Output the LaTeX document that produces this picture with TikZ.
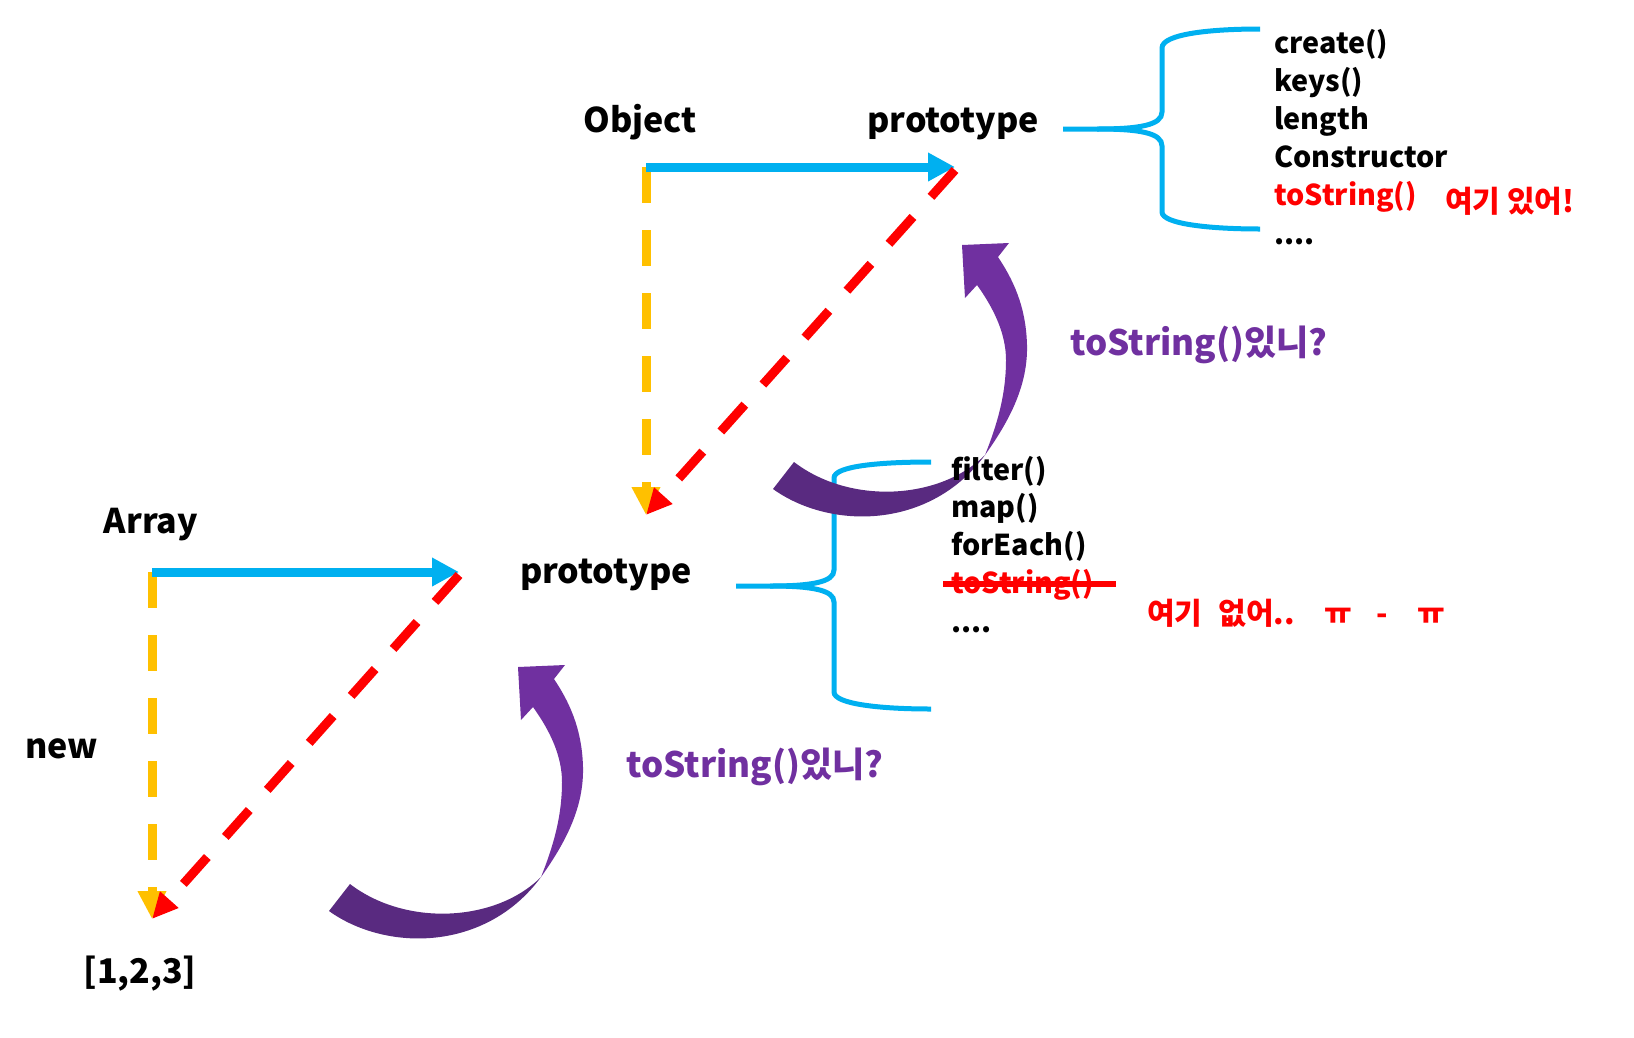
\documentclass[tikz,border=0pt]{standalone}
\usepackage{fontspec}
\setmainfont{Noto Sans CJK KR}
\newfontfamily\cjk{Noto Sans CJK KR}
\usetikzlibrary{arrows.meta}
\definecolor{sky}{HTML}{00B0F0}
\definecolor{amber}{HTML}{FFC000}
\definecolor{plum}{HTML}{7030A0}
\definecolor{darkplum}{HTML}{592A80}

\begin{document}
\begin{tikzpicture}[x=1pt,y=-1pt,line cap=butt]
    \tikzstyle{heading}=[inner sep=0pt,anchor=base,font=\cjk\fontsize{34}{42}\selectfont\bfseries]
    \tikzstyle{member}=[inner sep=0pt,anchor=base west,font=\cjk\fontsize{28.7}{36}\selectfont\bfseries]
    \tikzstyle{memo}=[inner sep=0pt,anchor=base west,text=red,font=\cjk\fontsize{30}{36}\selectfont\bfseries]
    \tikzstyle{query}=[inner sep=0pt,anchor=base west,text=plum,font=\cjk\fontsize{35}{42}\selectfont\bfseries]
    \tikzstyle{haslink}=[draw=sky,line width=9pt,-{Triangle[length=27pt,width=27pt]}]
    \tikzstyle{newlink}=[draw=amber,line width=9pt,dash pattern=on 36pt off 27pt,-{Triangle[length=28pt,width=27pt]}]
    \tikzstyle{protolink}=[draw=red,line width=9pt,dash pattern=on 36pt off 27pt,-{Triangle[length=26pt,width=23pt]}]
    \tikzstyle{bracket}=[draw=sky,line width=5pt]
    \tikzstyle{strike}=[draw=red,line width=6.5pt]

    \fill[white] (0,0) rectangle (1634,1037);
    \useasboundingbox (0,0) rectangle (1634,1037);

    % Constructors and their prototypes
    \node[heading] (obj) at (640,132) {Object};
    \node[heading] (obj-p) at (953,132) {prototype};
    \node[heading] (arr) at (151,533) {Array};
    \node[heading] (arr-p) at (606,583) {prototype};
    \node[heading] (new) at (62,758) {new};
    \node[heading] (lit) at (140,983) {[1,2,3]};

    % Corners of the two triangles
    \coordinate (obj-c) at (646,167);
    \coordinate (obj-t) at (955,167);
    \coordinate (obj-d) at (646,515);
    \coordinate (arr-c) at (152,572);
    \coordinate (arr-t) at (459,572);
    \coordinate (arr-d) at (152,919);

    \draw[newlink] (obj-c) -- (obj-d);
    \draw[haslink] (obj-c) -- (obj-t);
    \draw[protolink] ([yshift=-3pt]obj-t) -- (obj-d);

    \draw[newlink] (arr-c) -- (arr-d);
    \draw[haslink] (arr-c) -- (arr-t);
    \draw[protolink] ([yshift=-3pt]arr-t) -- (arr-d);

    % Braces round the member lists
    \draw[bracket] (1063,129) -- (1097,129) .. controls (1140,129) and (1162,125) .. (1162,112)
        -- (1162,48) .. controls (1162,34) and (1210,29) .. (1260,29);
    \draw[bracket] (1097,129) .. controls (1140,129) and (1162,133) .. (1162,146)
        -- (1162,212) .. controls (1162,224) and (1210,229) .. (1260,229);
    \draw[bracket] (736,586) -- (770,586) .. controls (812,586) and (834,582) .. (834,570)
        -- (834,478) .. controls (834,466) and (880,462) .. (931,462);
    \draw[bracket] (770,586) .. controls (812,586) and (834,590) .. (834,602)
        -- (834,692) .. controls (834,704) and (880,709) .. (931,709);

    % Lookup arrows up the chain
    \foreach \dx/\dy/\n in {0/0/up,-444/422/low}{
        \begin{scope}[shift={(\dx,\dy)}]
            \fill[darkplum] (773,489) .. controls (830,530) and (930,530) .. (985,455)
                .. controls (940,500) and (850,505) .. (794,462) -- cycle;
            \fill[plum] (985,455) .. controls (1010,420) and (1028,385) .. (1027,345)
                .. controls (1026,305) and (1012,278) .. (998,257) -- (1009,243) -- (962,245)
                -- (965,298) -- (977,285) .. controls (995,310) and (1006,335) .. (1006,360)
                .. controls (1006,395) and (997,425) .. (985,455) -- cycle;
            \node[query] (ask-\n) at (1070,355) {toString()있니?};
        \end{scope}
    }

    % Members of Object.prototype
    \foreach \i/\txt/\col in {1/create()/black,2/keys()/black,3/length/black,4/Constructor/black,5/toString()/red}
        \node[member,text=\col] (om-\i) at (1274,{53+38.2*(\i-1)}) {\txt};
    \node[member] (om-6) at (1274,244) {....};
    \node[memo] (found) at (1445,212) {여기 있어!};

    % Members of Array.prototype
    \foreach \i/\txt/\col in {1/filter()/black,2/map()/black,3/forEach()/black,4/toString()/red}
        \node[member,text=\col] (am-\i) at (951,{480+37.7*(\i-1)}) {\txt};
    \node[member] (am-5) at (951,632) {....};
    \draw[strike] ([xshift=-8pt,yshift=9pt]am-4.base west) -- ([xshift=22pt,yshift=9pt]am-4.base east);
    \node[memo] (missing) at (1147,624) {여기\hspace{16pt}없어..\hspace{30pt}ㅠ\hspace{24pt}-\hspace{30pt}ㅠ};
\end{tikzpicture}
\end{document}
